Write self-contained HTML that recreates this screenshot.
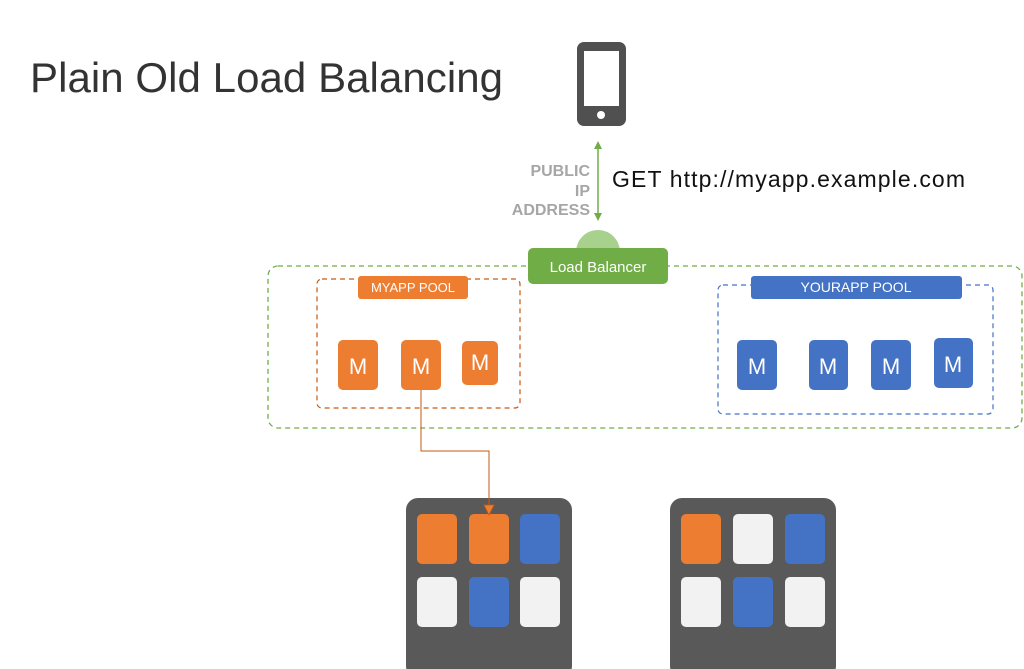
<!DOCTYPE html>
<html><head><meta charset="utf-8"><style>
html,body{margin:0;padding:0;background:#fff;}
svg{display:block;}
</style></head><body>
<svg width="1024" height="669" viewBox="0 0 1024 669" xmlns="http://www.w3.org/2000/svg" font-family="Liberation Sans, sans-serif">
<text x="30" y="92" font-size="42" fill="#333" textLength="473">Plain Old Load Balancing</text>
<!-- phone -->
<rect x="577" y="42" width="49" height="84" rx="7" fill="#505050"/>
<rect x="584" y="51" width="35" height="55" fill="#fff"/>
<circle cx="601" cy="115" r="4" fill="#fff"/>
<!-- arrow -->
<line x1="598" y1="148" x2="598" y2="214" stroke="#70ad47" stroke-width="1.5"/>
<polygon points="598,141 594,149 602,149" fill="#70ad47"/>
<polygon points="598,221 594,213 602,213" fill="#70ad47"/>
<g font-size="16" font-weight="bold" fill="#a6a6a6" text-anchor="end">
<text x="590" y="176">PUBLIC</text>
<text x="590" y="196">IP</text>
<text x="590" y="215">ADDRESS</text>
</g>
<text x="612" y="187" font-size="23" fill="#111" textLength="353">GET http://myapp.example.com</text>
<!-- outer green -->
<rect x="268" y="266" width="754" height="162" rx="10" fill="none" stroke="#70ad47" stroke-width="1.3" stroke-dasharray="5,4"/>
<circle cx="598" cy="252" r="22" fill="#a9d18e"/>
<rect x="528" y="248" width="140" height="36" rx="5" fill="#70ad47"/>
<text x="598" y="272" font-size="15" fill="#fff" text-anchor="middle">Load Balancer</text>
<!-- myapp pool -->
<rect x="317" y="279" width="203" height="129" rx="5" fill="none" stroke="#c55a11" stroke-width="1.2" stroke-dasharray="5,4"/>
<rect x="358" y="276" width="110" height="23" rx="3" fill="#ed7d31"/>
<text x="413" y="292" font-size="13" fill="#fff" text-anchor="middle">MYAPP  POOL</text>
<g fill="#ed7d31">
<rect x="338" y="340" width="40" height="50" rx="5"/>
<rect x="401" y="340" width="40" height="50" rx="5"/>
<rect x="462" y="341" width="36" height="44" rx="5"/>
</g>
<g font-size="22" fill="#fff" text-anchor="middle">
<text x="358" y="374">M</text><text x="421" y="374">M</text><text x="480" y="370">M</text>
</g>
<!-- yourapp pool -->
<rect x="718" y="285" width="275" height="129" rx="5" fill="none" stroke="#4472c4" stroke-width="1.2" stroke-dasharray="5,4"/>
<rect x="751" y="276" width="211" height="23" rx="3" fill="#4472c4"/>
<text x="856" y="292" font-size="14" fill="#fff" text-anchor="middle">YOURAPP POOL</text>
<g fill="#4472c4">
<rect x="737" y="340" width="40" height="50" rx="5"/>
<rect x="809" y="340" width="39" height="50" rx="5"/>
<rect x="871" y="340" width="40" height="50" rx="5"/>
<rect x="934" y="338" width="39" height="50" rx="5"/>
</g>
<g font-size="22" fill="#fff" text-anchor="middle">
<text x="757" y="374">M</text><text x="828" y="374">M</text><text x="891" y="374">M</text><text x="953" y="372">M</text>
</g>
<!-- servers -->
<rect x="406" y="498" width="166" height="180" rx="12" fill="#595959"/>
<rect x="670" y="498" width="166" height="180" rx="12" fill="#595959"/>
<g>
<rect x="417" y="514" width="40" height="50" rx="5" fill="#ed7d31"/>
<rect x="469" y="514" width="40" height="50" rx="5" fill="#ed7d31"/>
<rect x="520" y="514" width="40" height="50" rx="5" fill="#4472c4"/>
<rect x="417" y="577" width="40" height="50" rx="5" fill="#f2f2f2"/>
<rect x="469" y="577" width="40" height="50" rx="5" fill="#4472c4"/>
<rect x="520" y="577" width="40" height="50" rx="5" fill="#f2f2f2"/>
<rect x="681" y="514" width="40" height="50" rx="5" fill="#ed7d31"/>
<rect x="733" y="514" width="40" height="50" rx="5" fill="#f2f2f2"/>
<rect x="785" y="514" width="40" height="50" rx="5" fill="#4472c4"/>
<rect x="681" y="577" width="40" height="50" rx="5" fill="#f2f2f2"/>
<rect x="733" y="577" width="40" height="50" rx="5" fill="#4472c4"/>
<rect x="785" y="577" width="40" height="50" rx="5" fill="#f2f2f2"/>
</g>
<!-- connector -->
<polyline points="421,390 421,451 489,451 489,508" fill="none" stroke="#c55a11" stroke-width="1"/>
<polygon points="489,515 484,505 494,505" fill="#ed7d31" stroke="#c55a11" stroke-width="0.8"/>
</svg>
</body></html>
